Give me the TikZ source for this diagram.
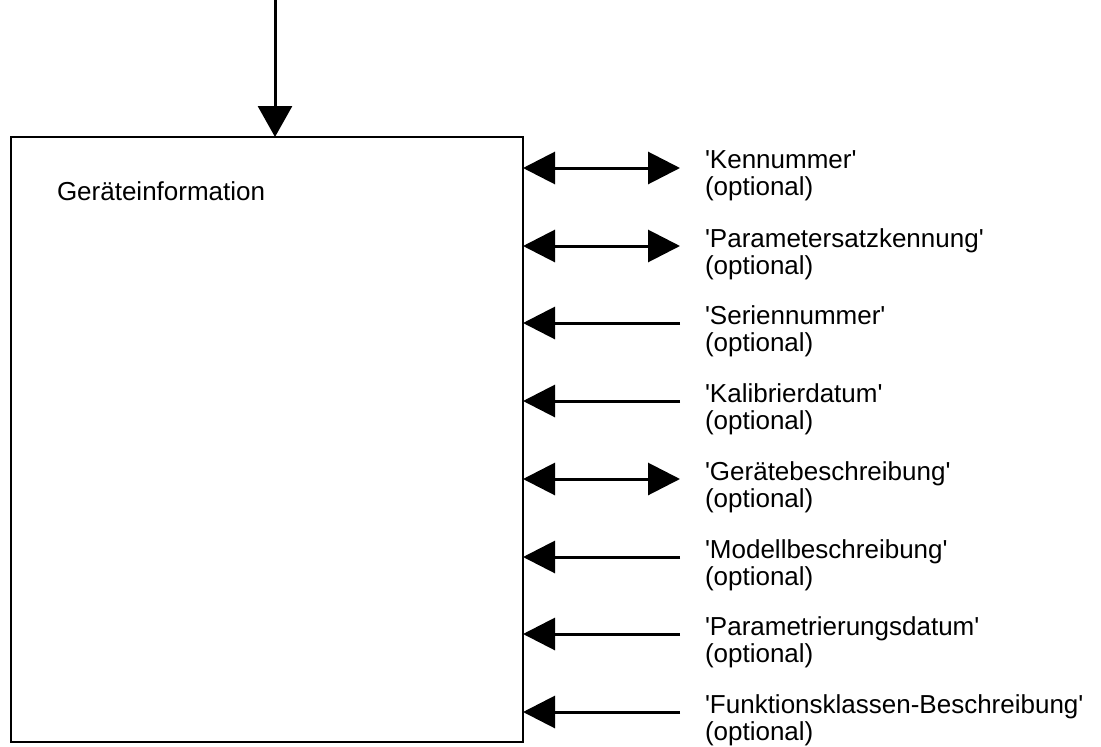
\documentclass[tikz,border=0pt]{standalone}
\usepackage{fontspec}
\setmainfont{Liberation Sans}
\usetikzlibrary{arrows.meta}
\begin{document}
\begin{tikzpicture}[x=1pt,y=-1pt,
  every node/.style={inner sep=0pt,outer sep=0pt},
  block/.style={draw,line width=2.5pt,minimum width=512pt,minimum height=605pt,anchor=north west},
  txt/.style={font=\fontsize{26}{27}\selectfont},
  lbl/.style={txt,align=left,anchor=west},
  flow/.style={line width=3pt,-{Triangle[length=32pt,width=32pt]}},
  bothflow/.style={line width=3pt,{Triangle[length=32pt,width=32pt]}-{Triangle[length=32pt,width=32pt]}},
  infeed/.style={line width=3pt,-{Triangle[length=31pt,width=34pt]}}]
  \useasboundingbox (0,0) rectangle (1101,747);

  % main block
  \node[block] (box) at (11,137) {};
  \node[txt,anchor=base west] (title) at (57,200) {Geräteinformation};

  % input from above
  \coordinate (top) at (275,0);
  \draw[infeed] (top) -- (top |- box.north);

  % data elements on the right side
  \foreach \i/\y/\name/\sty in {
      1/168/Kennummer/bothflow,
      2/246/Parametersatzkennung/bothflow,
      3/323/Seriennummer/flow,
      4/401/Kalibrierdatum/flow,
      5/479/Gerätebeschreibung/bothflow,
      6/557/Modellbeschreibung/flow,
      7/634/Parametrierungsdatum/flow,
      8/712/Funktionsklassen-Beschreibung/flow} {
    \coordinate (end\i) at (680,\y);
    \draw[\sty] (end\i) -- (box.east |- end\i);
    \node[lbl] (lab\i) at (705,\y+8) {\textquotesingle\name\textquotesingle\\(optional)};
  }
\end{tikzpicture}
\end{document}
